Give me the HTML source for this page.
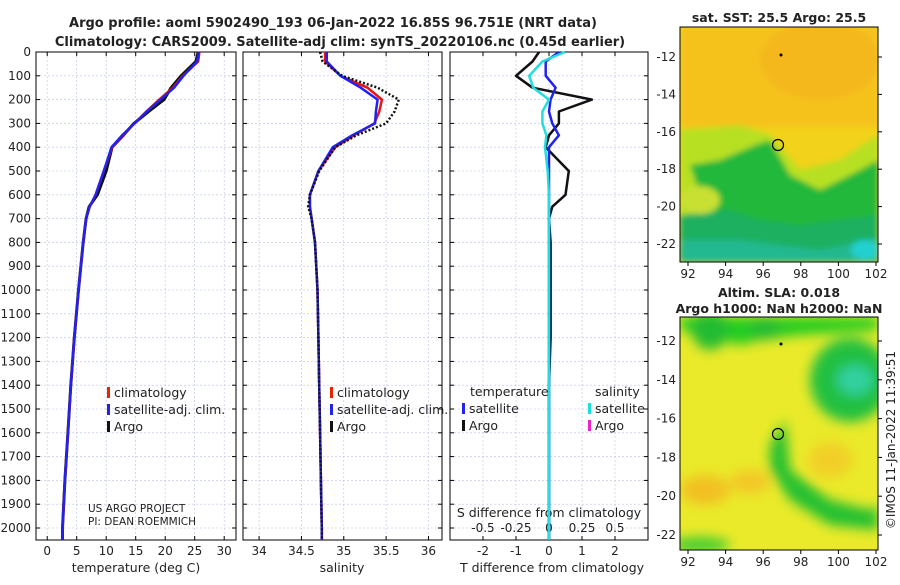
<!DOCTYPE html>
<html><head><meta charset="utf-8"><style>
body{margin:0;background:#fff;}
svg text{font-family:"DejaVu Sans","Liberation Sans",sans-serif;fill:#222;}
</style></head><body>
<svg id="c" width="900" height="580" xmlns="http://www.w3.org/2000/svg">
<defs>
<filter id="bl" x="-20%" y="-20%" width="140%" height="140%"><feGaussianBlur stdDeviation="6"/></filter>
<filter id="bl2" x="-20%" y="-20%" width="140%" height="140%"><feGaussianBlur stdDeviation="3"/></filter>
<clipPath id="m1"><rect x="680" y="27" width="198" height="235"/></clipPath>
<clipPath id="m2"><rect x="680" y="317" width="198" height="233"/></clipPath>
</defs>
<text x="333" y="27" text-anchor="middle" font-size="13" font-weight="bold">Argo profile: aoml 5902490_193 06-Jan-2022 16.85S 96.751E (NRT data)</text>
<text x="340" y="46" text-anchor="middle" font-size="13" font-weight="bold">Climatology: CARS2009. Satellite-adj clim: synTS_20220106.nc (0.45d earlier)</text>
<g id="plots"></g>
<g id="maps">
<g clip-path="url(#m1)">
<rect x="680" y="27" width="198" height="235" fill="#f2d21a"/>
<g filter="url(#bl2)">
<rect x="680" y="27" width="198" height="100" fill="#f5c21a"/>
<ellipse cx="820" cy="60" rx="60" ry="40" fill="#f4b81c"/>
<polygon points="680,130 740,125 770,135 800,170 840,160 878,135 878,262 680,262" fill="#b8e020"/>
<polygon points="690,165 720,160 755,145 770,140 790,175 820,190 860,170 878,160 878,262 680,262 680,230 720,220 700,195" fill="#22b83a"/>
<polygon points="680,215 730,210 760,220 800,225 878,215 878,262 680,262" fill="#1fb060"/>
<polygon points="680,240 740,240 820,250 878,238 878,262 680,262" fill="#20b890"/>
<ellipse cx="700" cy="200" rx="20" ry="14" fill="#c8e030"/>
<ellipse cx="865" cy="250" rx="14" ry="10" fill="#20d0d0"/>
</g>
</g>
<rect x="680" y="27" width="198" height="235" fill="none" stroke="#000" stroke-width="1"/>
<circle cx="781" cy="55" r="1.5" fill="#000"/>
<circle cx="778" cy="145" r="5.5" fill="none" stroke="#000" stroke-width="1.2"/>
<text x="779" y="22" text-anchor="middle" font-size="12.5" font-weight="bold">sat. SST: 25.5 Argo: 25.5</text>
<g clip-path="url(#m2)">
<rect x="680" y="317" width="198" height="233" fill="#eaea2a"/>
<g filter="url(#bl)">
<polygon points="680,317 878,317 878,330 800,335 760,340 740,345 720,340 700,335 680,330" fill="#22cc22"/>
<ellipse cx="710" cy="330" rx="18" ry="20" fill="#22bb33"/>
<ellipse cx="765" cy="328" rx="15" ry="12" fill="#22bb33"/>
<ellipse cx="850" cy="380" rx="40" ry="42" fill="#22c040"/>
<ellipse cx="855" cy="380" rx="18" ry="15" fill="#30d0a0"/>
<polygon points="770,445 785,420 790,470 830,500 870,510 878,505 878,530 830,525 790,500 770,470" fill="#22c030"/>
<ellipse cx="705" cy="490" rx="25" ry="15" fill="#f2c020"/>
<ellipse cx="750" cy="482" rx="20" ry="12" fill="#f2c828"/>
<ellipse cx="830" cy="460" rx="22" ry="18" fill="#f2cf28"/>
<ellipse cx="700" cy="545" rx="30" ry="8" fill="#40cc30"/>
</g>
</g>
<rect x="680" y="317" width="198" height="233" fill="none" stroke="#000" stroke-width="1"/>
<circle cx="781" cy="344" r="1.5" fill="#000"/>
<circle cx="778" cy="434" r="5.5" fill="none" stroke="#000" stroke-width="1.2"/>
<text x="779" y="297" text-anchor="middle" font-size="12.5" font-weight="bold">Altim. SLA: 0.018</text>
<text x="779" y="313" text-anchor="middle" font-size="12.5" font-weight="bold">Argo h1000: NaN h2000: NaN</text>
<text transform="translate(895,440) rotate(-90)" text-anchor="middle" font-size="12">©IMOS 11-Jan-2022 11:39:51</text>
</g>
</svg>
<script>
const NS="http://www.w3.org/2000/svg";
const depthTicks=[0,100,200,300,400,500,600,700,800,900,1000,1100,1200,1300,1400,1500,1600,1700,1800,1900,2000];
const tTicks=[0,5,10,15,20,25,30];
const sTicks=[34,34.5,35,35.5,36];
const dTTicks=[-2,-1,0,1,2];
const dSTicks=[-0.5,-0.25,0,0.25,0.5];
const dSTickLabels=["-0.5","-0.25","0","0.25","0.5"];
const depth=[0,40,100,150,200,250,300,350,400,500,600,650,700,800,1000,1200,1400,1600,1800,2000,2050];
const tClim=[25.8,25.6,23,21.3,19,16.8,14.8,12.8,11,9.6,8.2,7.2,6.6,6.1,5.3,4.6,4.0,3.5,3.0,2.6,2.6];
const tSat=[25.7,25.4,23.1,21.5,19.2,16.9,14.8,12.7,10.9,9.6,8.2,7.2,6.6,6.1,5.3,4.6,4.0,3.5,3.0,2.6,2.6];
const tArgo=[25.6,25.2,22.7,21.0,19.8,17.2,14.7,12.9,11.0,10.0,8.5,7.1,6.6,6.1,5.3,4.6,4.0,3.5,3.0,2.6,2.6];
const sClim=[34.78,34.78,34.96,35.28,35.45,35.42,35.36,35.12,34.9,34.7,34.6,34.6,34.62,34.66,34.69,34.7,34.71,34.72,34.73,34.74,34.74];
const sSat=[34.8,34.8,34.96,35.2,35.4,35.38,35.37,35.1,34.87,34.7,34.6,34.6,34.62,34.66,34.69,34.7,34.71,34.72,34.73,34.74,34.74];
const sArgo=[34.72,34.75,34.98,35.4,35.65,35.6,35.5,35.15,34.9,34.71,34.6,34.58,34.62,34.66,34.69,34.7,34.71,34.72,34.73,34.74,34.74];
const dTSat=[0.3,-0.1,-0.1,0.2,0.05,0.0,0.1,0.3,0.0,0.0,0.0,0.0,0.0,0.0,0.0,0.0,0.0,0.0,0.0,0.0,0.0];
const dTArgo=[-0.3,-0.5,-1.0,-0.5,1.3,0.3,0.3,0.0,-0.1,0.6,0.5,0.1,0.0,0.05,0.05,0.05,0.0,0.0,0.0,0.0,0.0];
const dSSat=[0.12,-0.05,-0.15,-0.12,0.0,-0.05,-0.05,-0.02,-0.03,-0.01,0.0,0.0,0.0,0.0,0.0,0.0,0.0,0.0,0.0,0.0,0.0];

const topY=52, pxPer100=23.8;
const yD=d=>topY+d/100*pxPer100;
const bottomY=540;
const panels=[
 {name:"temperature",x0:36,x1:236,dom:[-1.9,32]},
 {name:"salinity",x0:243,x1:442,dom:[33.81,36.16]},
 {name:"difference",x0:450,x1:648,dom:[-3,3]}
];
const g=document.getElementById('plots');
function el(t,a,p){const e=document.createElementNS(NS,t);for(const k in a)e.setAttribute(k,a[k]);(p||g).appendChild(e);return e;}
function txt(s,a,p){const e=el('text',a,p);e.textContent=s;return e;}
function xs(P){return v=>P.x0+(v-P.dom[0])/(P.dom[1]-P.dom[0])*(P.x1-P.x0);}
function line(P,fx,vals,color,w,dash,name){
  const sx=xs(P);
  const pts=vals.map((v,i)=>sx(fx(v)).toFixed(1)+','+Math.min(yD(depth[i]),bottomY).toFixed(1)).join(' ');
  const e=el('polyline',{points:pts,fill:'none',stroke:color,'stroke-width':w,'stroke-linejoin':'round'});
  if(dash)e.setAttribute('stroke-dasharray',dash);
  
  
}
panels.forEach((P,pi)=>{
  const sx=xs(P);
  const ticks=pi==0?tTicks:pi==1?sTicks:dTTicks;
  ticks.forEach(t=>{const e=el('line',{x1:sx(t),x2:sx(t),y1:topY,y2:bottomY,stroke:'#b8c0e0','stroke-width':0.6,'stroke-dasharray':'2,2'});
    });
  depthTicks.forEach(d=>{const e=el('line',{x1:P.x0,x2:P.x1,y1:yD(d),y2:yD(d),stroke:'#b8c0e0','stroke-width':0.6,'stroke-dasharray':'2,2'});
    
    el('line',{x1:P.x0,x2:P.x0+4,y1:yD(d),y2:yD(d),stroke:'#000'});
    el('line',{x1:P.x1-4,x2:P.x1,y1:yD(d),y2:yD(d),stroke:'#000'});
  });
  ticks.forEach(t=>{el('line',{x1:sx(t),x2:sx(t),y1:bottomY,y2:bottomY-4,stroke:'#000'});el('line',{x1:sx(t),x2:sx(t),y1:topY,y2:topY+4,stroke:'#000'});
    const e=txt(String(t),{x:sx(t),y:bottomY+15,'text-anchor':'middle','font-size':12});
    });
  const fr=el('rect',{x:P.x0,y:topY,width:P.x1-P.x0,height:bottomY-topY,fill:'none',stroke:'#000'});
  
});
depthTicks.forEach(d=>{const e=txt(String(d),{x:31,y:yD(d)+4,'text-anchor':'end','font-size':12});
  });
const P3=panels[2], sx3=xs(P3);
dSTicks.forEach((s,i)=>{const e=txt(dSTickLabels[i],{x:sx3(s*4),y:532,'text-anchor':'middle','font-size':12});
  });
let e;
e=txt('S difference from climatology',{x:549,y:517,'text-anchor':'middle','font-size':12.5});
e=txt('temperature (deg C)',{x:136,y:572,'text-anchor':'middle','font-size':12.5});
e=txt('salinity',{x:342,y:572,'text-anchor':'middle','font-size':12.5});
e=txt('T difference from climatology',{x:552,y:572,'text-anchor':'middle','font-size':12.5});
e=txt('US ARGO PROJECT',{x:88,y:512,'font-size':10.5});
e=txt('PI: DEAN ROEMMICH',{x:88,y:525,'font-size':10.5});
const id=v=>v;
line(panels[0],id,tArgo,'#111',3,null,'temperature-argo-line');
line(panels[0],id,tClim,'#ee1111',2.5,null,'temperature-climatology-line');
line(panels[0],id,tSat,'#2222ee',2.5,null,'temperature-satellite-line');
line(panels[1],id,sClim,'#ee1111',2.5,null,'salinity-climatology-line');
line(panels[1],id,sSat,'#2222ee',2.5,null,'salinity-satellite-line');
line(panels[1],id,sArgo,'#111',2.5,'2,2','salinity-argo-line');
line(panels[2],id,dTArgo,'#111',2.5,null,'t-diff-argo-line');
line(panels[2],id,dTSat,'#2222ee',2.5,null,'t-diff-satellite-line');
line(panels[2],v=>v*4,dSSat,'#22dddd',2.5,null,'s-diff-satellite-line');
function legend(x,y,items){
  items.forEach((it,i)=>{
    const m=el('rect',{x:x,y:y+i*17-10,width:3,height:11,fill:it[1]});
    
    const t=txt(it[0],{x:x+7,y:y+i*17,'font-size':12.5});
    
  });
}
legend(107,397,[['climatology','#ee2200'],['satellite-adj. clim.','#2222ee'],['Argo','#111']]);
legend(330,397,[['climatology','#ee2200'],['satellite-adj. clim.','#2222ee'],['Argo','#111']]);
e=txt('temperature',{x:470,y:396,'font-size':12.5});
e=txt('salinity',{x:595,y:396,'font-size':12.5});
legend(462,413,[['satellite','#2222ee'],['Argo','#111']]);
legend(588,413,[['satellite','#22dddd'],['Argo','#ee22cc']]);
const lonTicks=[92,94,96,98,100,102], latTicks=[-12,-14,-16,-18,-20,-22];
const mg=document.getElementById('maps');
const lonX=l=>688+(l-92)*18.8;
[[57,18.7,262],[341,19.4,550]].forEach(([y12,py,yb])=>{
  lonTicks.forEach(l=>{el('line',{x1:lonX(l),x2:lonX(l),y1:yb,y2:yb+4,stroke:'#000'},mg);
    const t=txt(String(l),{x:lonX(l),y:yb+16,'text-anchor':'middle','font-size':12},mg);
    });
  latTicks.forEach(a=>{const y=y12+(-12-a)*py;el('line',{x1:878,x2:882,y1:y,y2:y,stroke:'#000'},mg);
    const t=txt(String(a),{x:676,y:y+4,'text-anchor':'end','font-size':12},mg);
    });
});
</script>
</body></html>
